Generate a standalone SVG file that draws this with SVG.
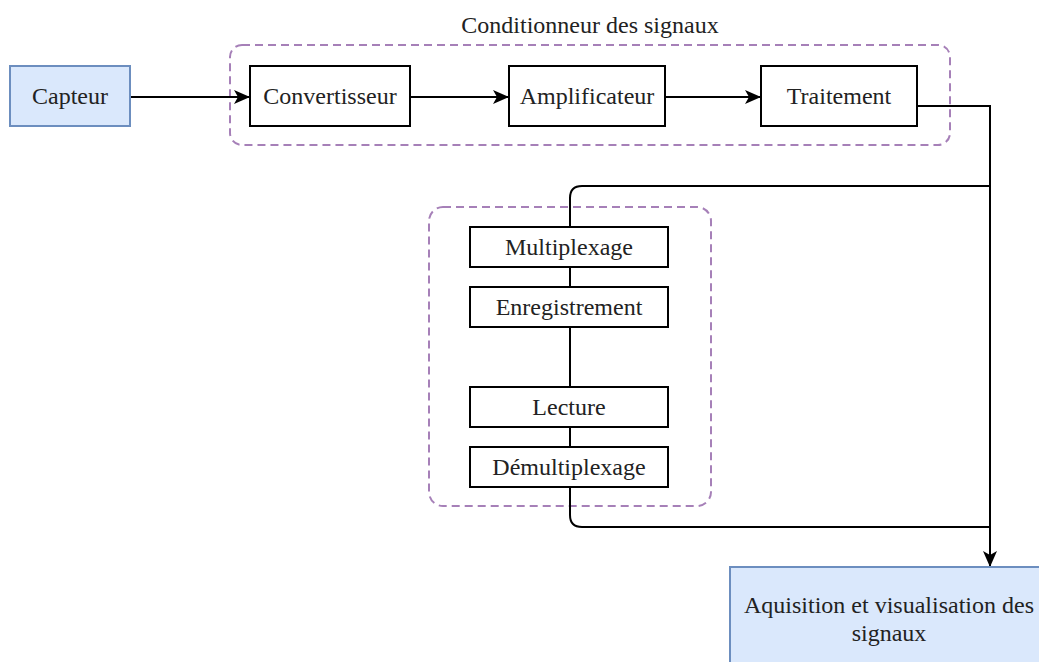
<svg xmlns="http://www.w3.org/2000/svg" width="1039" height="662" viewBox="0 0 1039 662">
<style>
  .box { fill: #ffffff; stroke: #000000; stroke-width: 2; }
  .blue { fill: #dae8fc; stroke: #6c8ebf; stroke-width: 2; }
  .grp { fill: none; stroke: #a680b8; stroke-width: 2; stroke-dasharray: 8 5; }
  .lbl { font-size: 24px; fill: #222222; text-anchor: middle; }
  .conn { fill: none; stroke: #000000; stroke-width: 2; }
</style>
<defs>
  <marker id="arr" viewBox="0 0 16 14" refX="15" refY="7" markerWidth="16" markerHeight="14" markerUnits="userSpaceOnUse" orient="auto">
    <path d="M0,0 L16,7 L0,14 L4,7 Z" fill="#000000"/>
  </marker>
</defs>
<rect width="1039" height="662" fill="#ffffff"/>

<g font-family="Liberation Serif, Times New Roman, serif">
<g id="group-conditionneur">
  <rect class="grp" x="230" y="45" width="720" height="100" rx="12"/>
  <text class="lbl" x="590" y="33">Conditionneur des signaux</text>
</g>
<g id="group-stockage">
  <rect class="grp" x="429" y="207" width="282" height="299" rx="14"/>
</g>

<g id="connectors">
  <path class="conn" d="M130,97 H249" marker-end="url(#arr)"/>
  <path class="conn" d="M410,97 H508" marker-end="url(#arr)"/>
  <path class="conn" d="M665,97 H760" marker-end="url(#arr)"/>
  <path class="conn" d="M917,106 H990 V566" marker-end="url(#arr)"/>
  <path class="conn" d="M990,186 H582 Q570,186 570,198 V227"/>
  <path class="conn" d="M570,267 V287"/>
  <path class="conn" d="M570,327 V387"/>
  <path class="conn" d="M570,427 V447"/>
  <path class="conn" d="M570,487 V515 Q570,527 582,527 H990"/>
</g>

<g id="node-capteur">
  <rect class="blue" x="10" y="66" width="120" height="60"/>
  <text class="lbl" x="70" y="104">Capteur</text>
</g>
<g id="node-convertisseur">
  <rect class="box" x="250" y="66" width="160" height="60"/>
  <text class="lbl" x="330" y="104">Convertisseur</text>
</g>
<g id="node-amplificateur">
  <rect class="box" x="509" y="66" width="156" height="60"/>
  <text class="lbl" x="587" y="104">Amplificateur</text>
</g>
<g id="node-traitement">
  <rect class="box" x="761" y="66" width="156" height="60"/>
  <text class="lbl" x="839" y="104">Traitement</text>
</g>
<g id="node-multiplexage">
  <rect class="box" x="470" y="227" width="198" height="40"/>
  <text class="lbl" x="569" y="255">Multiplexage</text>
</g>
<g id="node-enregistrement">
  <rect class="box" x="470" y="287" width="198" height="40"/>
  <text class="lbl" x="569" y="315">Enregistrement</text>
</g>
<g id="node-lecture">
  <rect class="box" x="470" y="387" width="198" height="40"/>
  <text class="lbl" x="569" y="415">Lecture</text>
</g>
<g id="node-demultiplexage">
  <rect class="box" x="470" y="447" width="198" height="40"/>
  <text class="lbl" x="569" y="475">Démultiplexage</text>
</g>
<g id="node-aquisition">
  <rect class="blue" x="730" y="567" width="318" height="110"/>
  <text class="lbl" x="889" y="613">Aquisition et visualisation des</text>
  <text class="lbl" x="889" y="641">signaux</text>
</g>
</g>
</svg>
